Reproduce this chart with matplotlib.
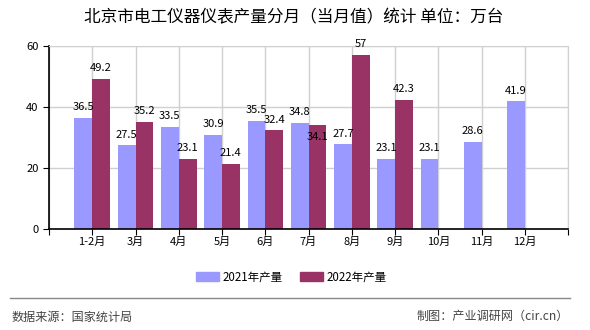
import numpy as np
import matplotlib.pyplot as plt
from matplotlib.patches import Patch

plt.rcParams['font.family'] = ['Noto Sans CJK SC', 'DejaVu Sans']

# 数据
months = ["1-2月", "3月", "4月", "5月", "6月", "7月", "8月", "9月", "10月", "11月", "12月"]
y2021 = [36.5, 27.5, 33.5, 30.9, 35.5, 34.8, 27.7, 23.1, 23.1, 28.6, 41.9]
y2022 = [49.2, 35.2, 23.1, 21.4, 32.4, 34.1, 57, 42.3]

c2021 = "#9999FF"
c2022 = "#993366"

fig = plt.figure(figsize=(5.9, 3.3), dpi=100)
ax = fig.add_axes([0.083, 0.306, 0.88, 0.555])

x = np.arange(1, len(months) + 1)
w = 0.41
b1 = ax.bar(x[:len(y2021)] - w / 2, y2021, width=w, color=c2021, zorder=2)
b2 = ax.bar(x[:len(y2022)] + w / 2, y2022, width=w, color=c2022, zorder=2)

for bars, vals, series in ((b1, y2021, 0), (b2, y2022, 1)):
    for i, (rect, v) in enumerate(zip(bars, vals)):
        dy = 4
        # 7月 的两个标签重叠，下移 2022 的标签
        if series == 1 and i == 5:
            dy = -12
        ax.annotate(f"{v:g}", (rect.get_x() + rect.get_width() / 2, rect.get_height()),
                    xytext=(0, dy), textcoords="offset points", ha="center", va="bottom",
                    fontsize=8, color="black", zorder=3)

ax.set_xlim(0, 12)
ax.set_ylim(0, 60)
ax.set_yticks([0, 20, 40, 60])
ax.set_xticks(np.arange(0, 13))
ax.set_xticklabels([""] + months + [""])
ax.tick_params(axis="both", labelsize=8, length=4, color="black")
ax.tick_params(axis="x", pad=2)
ax.grid(True, color="#d0d0d0", linewidth=1, zorder=0)
ax.set_axisbelow(True)
for s in ("top", "right"):
    ax.spines[s].set_color("#d0d0d0")
for s in ("left", "bottom"):
    ax.spines[s].set_color("black")
    ax.spines[s].set_linewidth(1.2)

fig.text(0.498, 0.945, "北京市电工仪器仪表产量分月（当月值）统计 单位：万台",
         ha="center", va="center", fontsize=12)

handles = [Patch(color=c2021, label="2021年产量"), Patch(color=c2022, label="2022年产量")]
fig.legend(handles=handles, loc="center", bbox_to_anchor=(0.494, 0.161), ncol=2,
           frameon=False, fontsize=8.3, handlelength=2.0, handleheight=0.9,
           handletextpad=0.3, columnspacing=1.5)

fig.add_artist(plt.Line2D([0.017, 0.966], [0.097, 0.097], color="#888888", linewidth=1))
fig.text(0.02, 0.04, "数据来源：国家统计局", ha="left", va="center", fontsize=8.7, color="#444444")
fig.text(0.965, 0.04, "制图：产业调研网（cir.cn）", ha="right", va="center", fontsize=8.7, color="#444444")

fig.savefig("out.png", dpi=100)
